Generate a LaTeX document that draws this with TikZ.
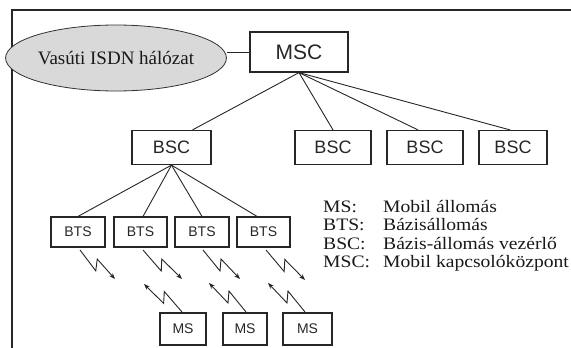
\documentclass[tikz,border=0pt]{standalone}
\usepackage{fontspec}
\setmainfont{Liberation Serif}
\newfontfamily\boxfont{Liberation Sans}
\newfontfamily\legendfont[FakeStretch=1.12]{Liberation Serif}
\usetikzlibrary{shapes.geometric,calc,arrows.meta}

\begin{document}
\begin{tikzpicture}[x=1pt,y=-1pt,
  ink/.style={black!85},
  unit/.style={draw=black!85, line width=1.2pt, inner sep=0pt, text=black!85},
  mscbox/.style={unit, minimum width=98pt, minimum height=40pt, font=\boxfont\fontsize{21}{24}\selectfont},
  bscbox/.style={unit, minimum height=34pt, font=\boxfont\fontsize{18}{21}\selectfont},
  btsbox/.style={unit, minimum height=30pt, font=\boxfont\fontsize{14}{17}\selectfont},
  msbox/.style={unit, minimum height=32pt, font=\boxfont\fontsize{14}{17}\selectfont},
  net/.style={ellipse, draw=black!80, line width=0.8pt, fill=gray!30, inner sep=0pt,
    minimum width=195pt, minimum height=66pt, text=black!90, font=\fontsize{19}{22}\selectfont},
  link/.style={draw=black!85, line width=0.9pt},
  leg/.style={inner sep=0pt, anchor=base west, text=black!90, font=\legendfont\fontsize{17.5}{20}\selectfont},
  bolt/.style={draw=black!85, line width=0.9pt, -{Stealth[length=6pt,width=4.5pt]},
    to path={-- ($(\tikztostart)!0.56!(\tikztotarget)!6pt!-90:(\tikztotarget)$)
             -- ($(\tikztostart)!0.42!(\tikztotarget)!4pt!90:(\tikztotarget)$)
             -- (\tikztotarget)}}
]
\useasboundingbox (0,0) rectangle (571,348);

% frame (top and left edges)
\draw[line width=1.8pt, ink] (571,10) -- (12,10) -- (12,348);

% network hierarchy
\node[net] (isdn) at (116,58) {Vasúti ISDN hálózat};
\node[mscbox] (msc) at (299,52) {MSC};

\node[bscbox, minimum width=79pt] (bsc1) at (171.5,147.5) {BSC};
\node[bscbox, minimum width=76pt] (bsc2) at (333,147.5) {BSC};
\node[bscbox, minimum width=76pt] (bsc3) at (425,147.5) {BSC};
\node[bscbox, minimum width=68pt] (bsc4) at (513,147.5) {BSC};

\node[btsbox, minimum width=54pt] (bts1) at (78,232) {BTS};
\node[btsbox, minimum width=53pt] (bts2) at (140.5,232) {BTS};
\node[btsbox, minimum width=54pt] (bts3) at (202,232) {BTS};
\node[btsbox, minimum width=53pt] (bts4) at (263.5,232) {BTS};

\node[msbox, minimum width=46pt] (ms1) at (183,329) {MS};
\node[msbox, minimum width=44pt] (ms2) at (245,329) {MS};
\node[msbox, minimum width=49pt] (ms3) at (307.5,329) {MS};

% wired links
\draw[link] (msc.west) -- (msc.west -| isdn.east);
\draw[link] (msc.south) -- ([xshift=21pt]bsc1.north);
\draw[link] (msc.south) -- (bsc2.north);
\draw[link] (msc.south) -- ([xshift=-7pt]bsc3.north);
\draw[link] (msc.south) -- ([xshift=-3pt]bsc4.north);

\draw[link] (bsc1.south) -- (bts1.north);
\draw[link] (bsc1.south) -- ([xshift=2.5pt]bts2.north);
\draw[link] (bsc1.south) -- (bts3.north);
\draw[link] (bsc1.south) -- ([xshift=-6.5pt]bts4.north);

% radio links
\coordinate (r1s) at (80,250);  \coordinate (r1e) at (115,279);
\coordinate (r2s) at (143,250); \coordinate (r2e) at (182,279);
\coordinate (r3s) at (203,250); \coordinate (r3e) at (240,279);
\coordinate (r4s) at (266,250); \coordinate (r4e) at (305,280);
\coordinate (u1s) at (182,312); \coordinate (u1e) at (144,284);
\coordinate (u2s) at (246,312); \coordinate (u2e) at (209,283);
\coordinate (u3s) at (305,312); \coordinate (u3e) at (268,283);

\draw[bolt] (r1s) to (r1e);
\draw[bolt] (r2s) to (r2e);
\draw[bolt] (r3s) to (r3e);
\draw[bolt] (r4s) to (r4e);
\draw[bolt] (u1s) to (u1e);
\draw[bolt] (u2s) to (u2e);
\draw[bolt] (u3s) to (u3e);

% legend
\node[leg] (k1) at (323,212) {MS:};
\node[leg] (d1) at (383,212) {Mobil állomás};
\node[leg] (k2) at (323,230.5) {BTS:};
\node[leg] (d2) at (383,230.5) {Bázisállomás};
\node[leg] (k3) at (323,249) {BSC:};
\node[leg] (d3) at (383,249) {Bázis-állomás vezérlő};
\node[leg] (k4) at (323,267.5) {MSC:};
\node[leg] (d4) at (383,267.5) {Mobil kapcsolóközpont};
\end{tikzpicture}
\end{document}
